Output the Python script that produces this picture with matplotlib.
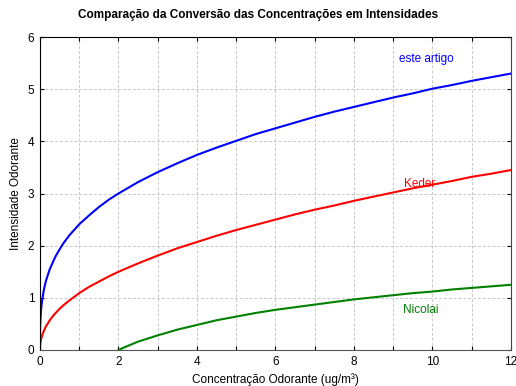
import matplotlib
matplotlib.use("Agg")
import matplotlib.pyplot as plt

plt.rcParams["font.family"] = ["Liberation Sans", "DejaVu Sans"]

# ============================================================
# Dados
# ============================================================
x_conc = [0, 0.0005, 0.002, 0.005, 0.01, 0.02, 0.03, 0.04, 0.06, 0.1,
          0.15, 0.2, 0.25, 0.35, 0.4, 0.5, 0.6, 0.75, 1, 1.25,
          1.5, 1.75, 2, 2.5, 3, 3.5, 4, 4.5, 5, 5.5,
          6, 6.5, 7, 7.5, 8, 8.5, 9, 9.5, 10, 10.5,
          11, 11.5, 12]
y_artigo = [0, 0.21, 0.33, 0.45, 0.56, 0.69, 0.79, 0.86, 0.98, 1.16,
            1.32, 1.44, 1.55, 1.72, 1.80, 1.93, 2.05, 2.20, 2.41, 2.58,
            2.74, 2.88, 3.0, 3.22, 3.41, 3.58, 3.74, 3.88, 4.01, 4.14,
            4.25, 4.36, 4.47, 4.57, 4.66, 4.75, 4.84, 4.92, 5.01, 5.08,
            5.16, 5.23, 5.30]
y_keder = [0, 0.03, 0.06, 0.09, 0.13, 0.18, 0.21, 0.24, 0.29, 0.37,
           0.45, 0.51, 0.57, 0.67, 0.71, 0.79, 0.86, 0.95, 1.09, 1.21,
           1.31, 1.41, 1.5, 1.66, 1.81, 1.95, 2.07, 2.19, 2.30, 2.40,
           2.50, 2.60, 2.69, 2.77, 2.86, 2.94, 3.02, 3.10, 3.17, 3.24,
           3.32, 3.38, 3.45]

x_nicolai = [2, 2.1, 2.25, 2.5, 2.75, 3, 3.5, 4, 4.5, 5, 5.5, 6,
             6.5, 7, 7.5, 8, 8.5, 9, 9.5, 10, 10.5, 11, 11.5, 12]
y_nicolai = [0, 0.034, 0.082, 0.16, 0.22, 0.28, 0.39, 0.48, 0.57, 0.64, 0.71, 0.77,
             0.82, 0.87, 0.92, 0.97, 1.01, 1.05, 1.09, 1.12, 1.16, 1.19, 1.22, 1.25]

# ============================================================
# Gráfico
# ============================================================
fig = plt.figure(figsize=(5.16, 3.86), dpi=100)
ax = fig.add_axes([0.0775, 0.0933, 0.9125, 0.8107])

ax.plot(x_conc, y_artigo, color="#0000ff", lw=1.5)
ax.plot(x_conc, y_keder, color="#ff0000", lw=1.5)
ax.plot(x_nicolai, y_nicolai, color="#008000", lw=1.5)

ax.text(9.15, 5.58, "este artigo", color="#0000ff", fontsize=8.5, va="center")
ax.text(9.27, 3.18, "Keder", color="#ff0000", fontsize=8.5, va="center")
ax.text(9.25, 0.77, "Nicolai", color="#008000", fontsize=8.5, va="center")

ax.set_xlim(0, 12)
ax.set_ylim(0, 6)
ax.set_xticks(range(0, 13))
ax.set_xticklabels([str(v) if v % 2 == 0 else "" for v in range(0, 13)])
ax.set_yticks(range(0, 7))
ax.tick_params(direction="in", top=True, right=True, length=3, labelsize=8.5, pad=4)
ax.grid(True, ls=(0, (3, 2)), color="#c8c8c8", lw=0.7)

ax.spines["bottom"].set_color("#555555")
ax.spines["right"].set_color("#444444")

# título centrado na figura, não nos eixos
fig.text(0.5, 0.96, "Comparação da Conversão das Concentrações em Intensidades",
         fontsize=8.5, fontweight="bold", ha="center", va="center")
ax.set_xlabel("Concentração Odorante (ug/m³)", fontsize=8.5, labelpad=4)
ax.set_ylabel("Intensidade Odorante", fontsize=8.5, labelpad=4)

fig.savefig("out.png", dpi=100)
